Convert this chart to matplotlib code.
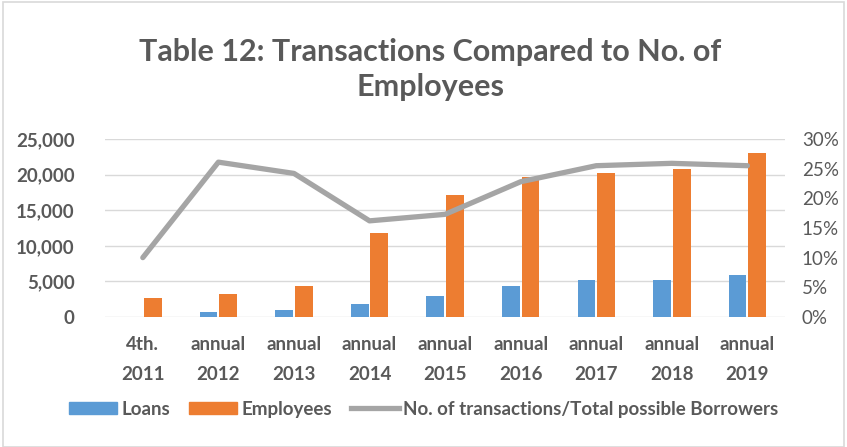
import matplotlib
matplotlib.use("Agg")
import matplotlib.pyplot as plt
import numpy as np
from matplotlib.patches import Rectangle, Patch
from matplotlib.lines import Line2D
from matplotlib.ticker import FuncFormatter

categories = ["4th.\n2011", "annual\n2012", "annual\n2013", "annual\n2014", "annual\n2015",
              "annual\n2016", "annual\n2017", "annual\n2018", "annual\n2019"]
loans = [0, 660, 940, 1790, 2910, 4280, 5120, 5120, 5960]
employees = [2590, 3190, 4280, 11780, 17120, 19610, 20170, 20740, 22990]
ratio = [10.0, 26.1, 24.2, 16.2, 17.3, 22.8, 25.5, 25.9, 25.5]

BLUE = "#5B9BD5"
ORANGE = "#ED7D31"
GRAY = "#A5A5A5"
TXT = "#595959"
FONT = ["Lato", "DejaVu Sans"]

fig = plt.figure(figsize=(8.47, 4.47), dpi=100)
fig.patches.append(Rectangle((0.003, 0.0), 0.994, 0.995, transform=fig.transFigure,
                             fill=False, edgecolor="#D9D9D9", linewidth=1.2))

ax = fig.add_axes([0.124, 0.291, 0.803, 0.398])
x = np.arange(len(categories))
w = 0.235
ax.bar(x - 0.13, loans, width=w, color=BLUE, zorder=3)
ax.bar(x + 0.13, employees, width=w, color=ORANGE, zorder=3)
ax.set_ylim(0, 25000)
ax.set_yticks(np.arange(0, 25001, 5000))
ax.yaxis.set_major_formatter(FuncFormatter(lambda v, p: f"{int(v):,}"))
ax.set_xlim(-0.5, len(categories) - 0.5)
ax.set_xticks(x)
ax.set_xticklabels(categories, linespacing=1.9)
ax.grid(axis="y", color="#D9D9D9", linewidth=1.0, zorder=0)
for s in ax.spines.values():
    s.set_visible(False)
ax.tick_params(length=0)
ax.tick_params(axis="y", pad=22)
ax.tick_params(axis="x", pad=14)
for lab in ax.get_yticklabels() + ax.get_xticklabels():
    lab.set_fontfamily(FONT)
    lab.set_fontweight("bold")
    lab.set_fontsize(13.5)
    lab.set_color(TXT)

ax2 = ax.twinx()
ax2.plot(x, ratio, color=GRAY, linewidth=3.8, zorder=4, solid_capstyle="round")
ax2.set_ylim(0, 30)
ax2.set_yticks(np.arange(0, 31, 5))
ax2.yaxis.set_major_formatter(FuncFormatter(lambda v, p: f"{int(v)}%"))
for s in ax2.spines.values():
    s.set_visible(False)
ax2.tick_params(length=0, pad=12)
for lab in ax2.get_yticklabels():
    lab.set_fontfamily(FONT)
    lab.set_fontsize(13.5)
    lab.set_color(TXT)

fig.text(0.508, 0.845, "Table 12: Transactions Compared to No. of\nEmployees", ha="center", va="center",
         fontsize=22, fontweight="bold", color=TXT, family=FONT, linespacing=1.3)

handles = [Patch(color=BLUE), Patch(color=ORANGE), Line2D([0], [0], color=GRAY, linewidth=3.8)]
labels = ["Loans", "Employees", "No. of transactions/Total possible Borrowers"]
leg = fig.legend(handles, labels, loc="center", bbox_to_anchor=(0.5, 0.085), ncol=3, frameon=False,
                 prop={"family": FONT, "weight": "bold", "size": 13.5}, handlelength=2.6,
                 handleheight=0.6, handletextpad=0.2, columnspacing=1.0)
for t in leg.get_texts():
    t.set_color(TXT)

fig.savefig("out.png", dpi=100)
